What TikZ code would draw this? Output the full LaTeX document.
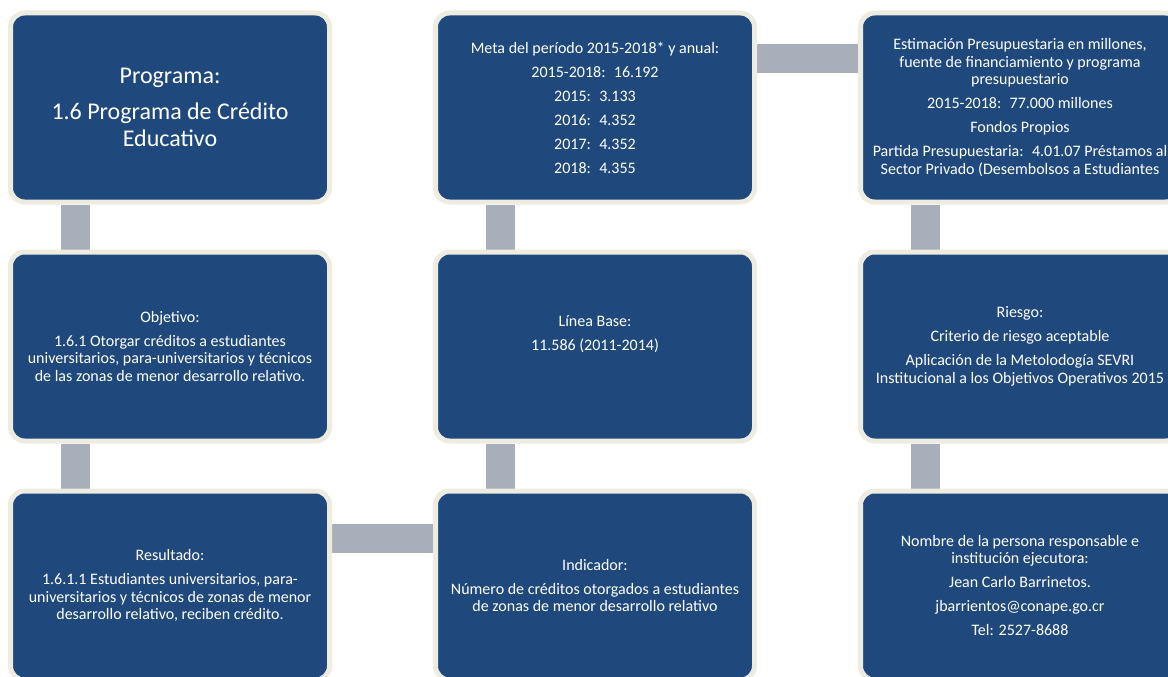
\documentclass[tikz,border=0pt]{standalone}
\usepackage{fontspec}
\setmainfont{Carlito}
\usepackage{xcolor}
\usetikzlibrary{calc, backgrounds}

\definecolor{boxblue}{HTML}{1F497D}
\definecolor{boxrim}{HTML}{EEECE1}
\definecolor{bargray}{HTML}{A9AEBB}

\begin{document}
\begin{tikzpicture}[x=1pt, y=-1pt,
    cardbox/.style={draw=boxrim, line width=5pt, fill=boxblue, rounded corners=14pt,
        minimum width=319pt, minimum height=189pt, inner sep=0pt, text=white,
        align=center, font=\fontsize{16}{17.5}\selectfont},
    connbar/.style={draw=bargray, line width=29pt}]

    \path[use as bounding box] (0,0) rectangle (1168,677);

    % top row
    \node[cardbox, font=\fontsize{24}{27}\selectfont] (prog) at (170,107.5)
        {Programa:\\[9pt] 1.6 Programa de Crédito\\ Educativo};
    \node[cardbox] (meta) at (595,107.5)
        {Meta del período 2015-2018* y anual:\\[6.5pt] 2015-2018:~ 16.192\\[6.5pt]
         2015:~ 3.133\\[6.5pt] 2016:~ 4.352\\[6.5pt] 2017:~ 4.352\\[6.5pt] 2018:~ 4.355};
    \node[cardbox] (presup) at (1020,107.5)
        {Estimación Presupuestaria en millones,\\ fuente de financiamiento y programa\\
         presupuestario\\[6.5pt] 2015-2018:~ 77.000 millones\\[6.5pt] Fondos Propios\\[6.5pt]
         Partida Presupuestaria:~ 4.01.07 Préstamos al\\ Sector Privado (Desembolsos a Estudiantes};

    % middle row
    \node[cardbox] (obj) at (170,346.5)
        {Objetivo:\\[6.5pt] 1.6.1 Otorgar créditos a estudiantes\\
         universitarios, para-universitarios y técnicos\\ de las zonas de menor desarrollo relativo.};
    \node[cardbox] (base) at (595,346.5)
        {Línea Base:\\[6.5pt] 11.586 (2011-2014)\\[10pt]~};
    \node[cardbox] (riesgo) at (1020,346.5)
        {Riesgo:\\[6.5pt] Criterio de riesgo aceptable\\[6.5pt] Aplicación de la Metolodogía SEVRI\\
         Institucional a los Objetivos Operativos 2015};

    % bottom row
    \node[cardbox] (result) at (170,585.5)
        {Resultado:\\[6.5pt] 1.6.1.1 Estudiantes universitarios, para-\\
         universitarios y técnicos de zonas de menor\\ desarrollo relativo, reciben crédito.};
    \node[cardbox] (indic) at (595,585.5)
        {Indicador:\\[6.5pt] Número de créditos otorgados a estudiantes\\
         de zonas de menor desarrollo relativo};
    \node[cardbox] (resp) at (1020,585.5)
        {Nombre de la persona responsable e\\ institución ejecutora:\\[6.5pt]
         Jean Carlo Barrinetos.\\[6.5pt] jbarrientos@conape.go.cr\\[6.5pt] Tel: 2527-8688};

    % grey links behind the boxes
    \begin{scope}[on background layer]
        \draw[connbar] ([xshift=67.5pt]prog.south west) -- ([xshift=67.5pt]obj.north west);
        \draw[connbar] ([xshift=67.5pt]obj.south west) -- ([xshift=67.5pt]result.north west);
        \draw[connbar] ([xshift=67.5pt]meta.south west) -- ([xshift=67.5pt]base.north west);
        \draw[connbar] ([xshift=67.5pt]base.south west) -- ([xshift=67.5pt]indic.north west);
        \draw[connbar] ([xshift=67.5pt]presup.south west) -- ([xshift=67.5pt]riesgo.north west);
        \draw[connbar] ([xshift=67.5pt]riesgo.south west) -- ([xshift=67.5pt]resp.north west);
        \draw[connbar] ([yshift=-48.5pt]meta.north east) -- ([yshift=-48.5pt]presup.north west);
        \draw[connbar] ([yshift=-50pt]result.north east) -- ([yshift=-50pt]indic.north west);
    \end{scope}

\end{tikzpicture}
\end{document}
